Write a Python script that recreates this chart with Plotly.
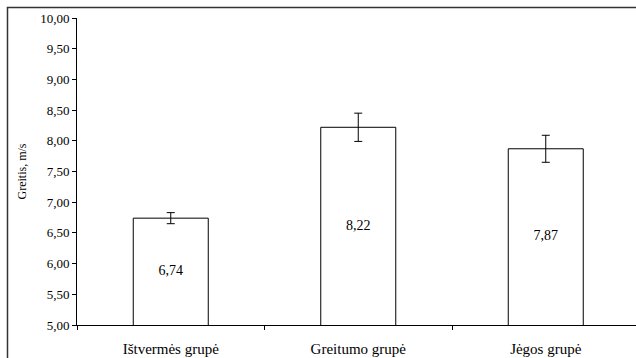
import plotly.graph_objects as go

categories = ["Ištvermės grupė", "Greitumo grupė", "Jėgos grupė"]
values = [6.74, 8.22, 7.87]
errors = [0.09, 0.23, 0.22]
labels = ["6,74", "8,22", "7,87"]
y_min, y_max = 5.0, 10.0

W, H = 636, 358
L, R = 77, 636
T, B = 18, 325
pw, ph = R - L, B - T
cat_px = 187.5
span = pw / cat_px

serif = "Times New Roman, Liberation Serif, serif"
font = dict(family=serif, size=13, color="black")

fig = go.Figure()
fig.add_trace(go.Bar(
    x=categories, y=values,
    width=0.4,
    marker=dict(color="white", line=dict(color="black", width=1)),
    error_y=dict(type="data", array=errors, visible=True, color="black", thickness=1, width=4),
    hoverinfo="skip",
))
# value labels placed in the middle of the visible part of each bar
fig.add_trace(go.Scatter(
    x=categories, y=[(y_min + v) / 2 for v in values],
    mode="text", text=labels,
    textfont=dict(family=serif, size=14, color="black"),
    textposition="middle center", hoverinfo="skip",
))

fig.update_layout(
    width=W, height=H,
    margin=dict(l=L, r=W - R, t=T, b=H - B),
    paper_bgcolor="white", plot_bgcolor="white",
    font=font,
    separators=", ",
    showlegend=False,
    xaxis=dict(
        type="category", range=[-0.5, -0.5 + span],
        showline=True, linecolor="black", linewidth=1,
        ticks="outside", tickson="boundaries", ticklen=4, tickcolor="black",
        showgrid=False, tickfont=dict(family=serif, size=15),
        ticklabelstandoff=10,
        fixedrange=True,
    ),
    yaxis=dict(
        range=[y_min, y_max], dtick=0.5, tick0=5, tickformat=".2f",
        showline=True, linecolor="black", linewidth=1,
        ticks="outside", ticklen=4, tickcolor="black",
        showgrid=False, zeroline=False,
        title=dict(text="Greitis, m/s", font=dict(family=serif, size=12), standoff=10),
        tickfont=dict(family=serif, size=13),
    ),
    shapes=[dict(
        type="rect", xref="paper", yref="paper",
        x0=(7.5 - L) / pw, x1=1.2,
        y0=-0.3, y1=1 + (T - 7.5) / ph,
        line=dict(color="#333333", width=1.5), fillcolor="rgba(0,0,0,0)", layer="below",
    )],
)

fig.write_html("out.html")
